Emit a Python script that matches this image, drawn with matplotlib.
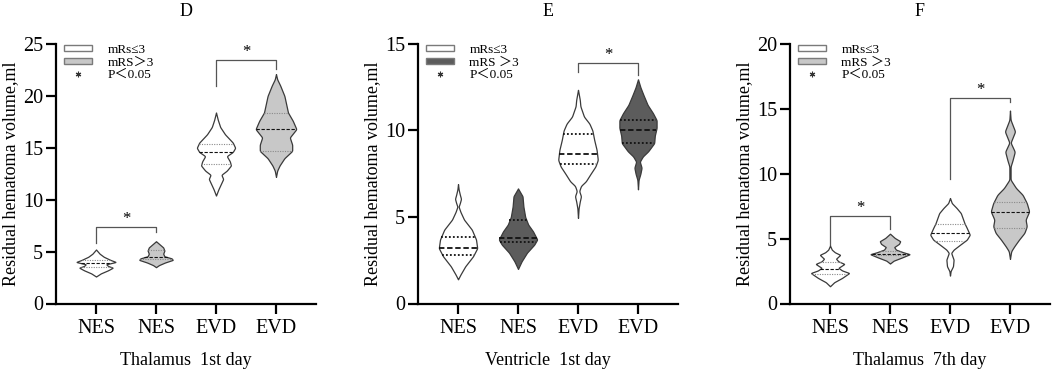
import numpy as np
import matplotlib
matplotlib.use("Agg")
import matplotlib.pyplot as plt
from matplotlib.patches import Patch
from matplotlib.lines import Line2D

plt.rcParams["font.family"] = ["Liberation Serif", "Noto Sans CJK SC"]

GROUPS = ["NES", "NES", "EVD", "EVD"]

# half-width profiles of each violin (value, half width in category units)
# panel D: thalamus, day 1
D_NES_LO_Y = [2.6, 2.9, 3.2, 3.45, 3.62, 3.78, 4.0, 4.2, 4.5, 4.8, 5.2]
D_NES_LO_W = [0, 0.08, 0.20, 0.28, 0.20, 0.17, 0.33, 0.24, 0.13, 0.06, 0]
D_NES_HI_Y = [3.5, 3.7, 3.95, 4.2, 4.35, 4.55, 4.8, 5.1, 5.4, 5.7, 6.0]
D_NES_HI_W = [0, 0.05, 0.15, 0.28, 0.26, 0.14, 0.12, 0.14, 0.12, 0.06, 0]
D_EVD_LO_Y = [10.4, 11.0, 11.5, 12.0, 12.4, 12.8, 13.3, 13.7, 14.2, 14.6, 15.0, 15.5, 16.3, 17.0, 17.7, 18.4]
D_EVD_LO_W = [0, 0.04, 0.08, 0.12, 0.09, 0.18, 0.25, 0.23, 0.18, 0.28, 0.32, 0.28, 0.15, 0.07, 0.03, 0]
D_EVD_HI_Y = [12.2, 12.8, 13.3, 14.0, 14.7, 15.3, 16.0, 16.8, 17.6, 18.4, 19.2, 20.0, 21.0, 21.6, 22.1]
D_EVD_HI_W = [0, 0.02, 0.06, 0.14, 0.27, 0.27, 0.23, 0.34, 0.28, 0.20, 0.17, 0.14, 0.07, 0.02, 0]
D_QUART = [(3.5, 3.9, 4.2), (4.25, 4.45, 5.2), (13.4, 14.6, 15.4), (14.7, 16.8, 18.4)]

# panel E: ventricle, day 1
E_NES_LO_Y = [1.4, 1.67, 2.15, 2.73, 3.2, 3.7, 4.27, 4.85, 5.3, 5.6, 5.8, 6.05, 6.3, 6.6, 6.9]
E_NES_LO_W = [0, 0.04, 0.12, 0.25, 0.32, 0.30, 0.23, 0.10, 0.04, 0.01, 0.03, 0.05, 0.03, 0.01, 0]
E_NES_HI_Y = [2.0, 2.44, 2.94, 3.4, 3.7, 4.17, 4.56, 5.0, 5.6, 6.2, 6.65]
E_NES_HI_W = [0, 0.06, 0.15, 0.27, 0.32, 0.25, 0.17, 0.12, 0.09, 0.075, 0]
E_EVD_LO_Y = [4.95, 5.5, 5.9, 6.2, 6.5, 6.8, 7.06, 7.5, 7.92, 8.3, 8.88, 9.46, 10.0, 10.4, 10.8, 11.4, 11.77, 12.35]
E_EVD_LO_W = [0, 0.01, 0.03, 0.05, 0.02, 0.05, 0.13, 0.21, 0.29, 0.33, 0.31, 0.27, 0.24, 0.19, 0.10, 0.04, 0.03, 0]
E_EVD_HI_Y = [6.6, 7.15, 7.5, 7.85, 8.2, 8.5, 8.8, 9.27, 9.7, 10.15, 10.6, 11.0, 11.48, 12.06, 12.5, 12.96]
E_EVD_HI_W = [0, 0.01, 0.04, 0.06, 0.03, 0.08, 0.17, 0.27, 0.28, 0.31, 0.31, 0.25, 0.16, 0.09, 0.04, 0]
E_QUART = [(2.8, 3.2, 3.85), (3.55, 3.77, 4.8), (8.05, 8.67, 9.8), (9.27, 10.04, 10.62)]

# panel F: thalamus, day 7
F_NES_LO_Y = [1.33, 1.64, 1.97, 2.35, 2.55, 2.75, 3.05, 3.25, 3.45, 3.75, 3.95, 4.15, 4.46]
F_NES_LO_W = [0, 0.07, 0.20, 0.32, 0.20, 0.14, 0.24, 0.14, 0.10, 0.17, 0.08, 0.03, 0]
F_NES_HI_Y = [3.08, 3.3, 3.55, 3.8, 3.95, 4.15, 4.35, 4.6, 4.8, 5.05, 5.38]
F_NES_HI_W = [0, 0.06, 0.20, 0.33, 0.22, 0.10, 0.07, 0.15, 0.17, 0.08, 0]
F_EVD_LO_Y = [2.15, 2.5, 2.87, 3.38, 3.9, 4.15, 4.54, 4.92, 5.3, 5.82, 6.2, 6.59, 6.97, 7.36, 7.74, 8.13]
F_EVD_LO_W = [0, 0.01, 0.05, 0.06, 0.02, 0.06, 0.17, 0.28, 0.33, 0.28, 0.24, 0.21, 0.18, 0.11, 0.03, 0]
F_EVD_HI_Y = [3.44, 4.03, 4.4, 4.92, 5.44, 5.95, 6.46, 7.1, 7.74, 8.38, 8.9, 9.54, 10.56, 11.0, 11.7, 12.4, 13.26, 14.15, 14.87]
F_EVD_HI_W = [0, 0.02, 0.07, 0.15, 0.24, 0.28, 0.26, 0.32, 0.28, 0.21, 0.10, 0.01, 0.01, 0.04, 0.08, 0.01, 0.085, 0.01, 0]
F_QUART = [(2.31, 2.67, 3.18), (3.7, 3.85, 4.05), (4.85, 5.44, 6.13), (5.82, 7.02, 7.8)]

# significance brackets: (left pos, right pos, top, left leg end, right leg end, star y)
D_BRACKETS = [(0, 1, 7.4, 5.8, 6.9, 8.5), (2, 3, 23.5, 21.0, 22.6, 24.6)]
E_BRACKETS = [(2, 3, 13.9, 13.4, 13.2, 14.6)]
F_BRACKETS = [(0, 1, 6.77, 4.54, 5.74, 7.67), (2, 3, 15.82, 9.59, 15.5, 16.8)]

PANELS = [
    dict(title="D", xlabel="Thalamus  1st day", ymax=25, left=56,
         profiles=[(D_NES_LO_Y, D_NES_LO_W), (D_NES_HI_Y, D_NES_HI_W),
                   (D_EVD_LO_Y, D_EVD_LO_W), (D_EVD_HI_Y, D_EVD_HI_W)],
         quart=D_QUART, brackets=D_BRACKETS, fill="#c8c8c8", qcolor="#8a8a8a",
         labels=["mRs≤3", "mRS＞3", "P＜0.05"]),
    dict(title="E", xlabel="Ventricle  1st day", ymax=15, left=418,
         profiles=[(E_NES_LO_Y, E_NES_LO_W), (E_NES_HI_Y, E_NES_HI_W),
                   (E_EVD_LO_Y, E_EVD_LO_W), (E_EVD_HI_Y, E_EVD_HI_W)],
         quart=E_QUART, brackets=E_BRACKETS, fill="#5c5c5c", qcolor="#111111",
         labels=["mRs≤3", "mRS ＞3", "P＜0.05"]),
    dict(title="F", xlabel="Thalamus  7th day", ymax=20, left=790,
         profiles=[(F_NES_LO_Y, F_NES_LO_W), (F_NES_HI_Y, F_NES_HI_W),
                   (F_EVD_LO_Y, F_EVD_LO_W), (F_EVD_HI_Y, F_EVD_HI_W)],
         quart=F_QUART, brackets=F_BRACKETS, fill="#c8c8c8", qcolor="#8a8a8a",
         labels=["mRs≤3", "mRS ＞3", "P＜0.05"]),
]

W, H = 1053, 370
EDGE = "#3a3a3a"


def smooth_profile(y, w, n=400):
    yy = np.linspace(y[0], y[-1], n)
    ww = np.interp(yy, y, w)
    k = np.exp(-0.5 * (np.arange(-7, 8) / 2.5) ** 2)
    k /= k.sum()
    ww = np.convolve(np.pad(ww, 7, mode="constant"), k, mode="same")[7:-7]
    ww[0] = ww[-1] = 0
    return yy, ww


def draw_violin(ax, pos, y, w, quart, face, qcolor, lw_q):
    yy, ww = smooth_profile(y, w)
    ax.fill_betweenx(yy, pos - ww, pos + ww, facecolor=face, edgecolor=EDGE, linewidth=0.9, zorder=2)
    q1, med, q3 = quart
    for q in (q1, q3):
        half = np.interp(q, yy, ww)
        ax.plot([pos - half, pos + half], [q, q], color=qcolor, linestyle=(0, (1, 1.2)),
                linewidth=lw_q, zorder=3)
    half = np.interp(med, yy, ww)
    ax.plot([pos - half, pos + half], [med, med], color="#111111", linestyle=(0, (3, 1.5)),
            linewidth=lw_q, zorder=3)


fig = plt.figure(figsize=(W / 100, H / 100), dpi=100)

for p in PANELS:
    ax = fig.add_axes([p["left"] / W, 1 - 303.5 / H, 260 / W, 259.5 / H])
    faces = ["white", p["fill"], "white", p["fill"]]
    lw_q = 1.3 if p["title"] == "E" else 0.8
    for i, (y, w) in enumerate(p["profiles"]):
        draw_violin(ax, i, y, w, p["quart"][i], faces[i], p["qcolor"], lw_q)

    for x0, x1, top, l0, l1, sy in p["brackets"]:
        ax.plot([x0, x0, x1, x1], [l0, top, top, l1], color="#555555", linewidth=0.9, zorder=1)
        ax.annotate("*", ((x0 + x1) / 2, sy), xytext=(0, -3), textcoords="offset points",
                    ha="center", va="center", fontsize=12, annotation_clip=False)

    ax.set_xlim(-0.667, 3.667)
    ax.set_ylim(0, p["ymax"])
    ax.set_yticks(np.arange(0, p["ymax"] + 1, 5))
    ax.set_xticks(range(4))
    ax.set_xticklabels(GROUPS)
    for s in ["top", "right"]:
        ax.spines[s].set_visible(False)
    for s in ["left", "bottom"]:
        ax.spines[s].set_linewidth(1.6)
    ax.tick_params(length=7.2, width=1.6, labelsize=14.5)
    ax.tick_params(axis="x", pad=4)
    ax.tick_params(axis="y", pad=2)
    ax.set_ylabel("Residual hematoma volume,ml", fontsize=13, labelpad=3)
    ax.set_xlabel(p["xlabel"], fontsize=13, labelpad=10)
    ax.set_title(p["title"], fontsize=13, pad=20)

    handles = [
        Patch(facecolor="white", edgecolor="#7a7a7a", linewidth=1.0),
        Patch(facecolor=p["fill"], edgecolor="#7a7a7a", linewidth=1.0),
        Line2D([], [], linestyle="none", marker=(6, 2, 0), markersize=4,
               color="#333333", markeredgewidth=0.8),
    ]
    ax.legend(handles, p["labels"], loc="upper left", bbox_to_anchor=(0.03, 1.0),
              frameon=False, fontsize=9.5, handlelength=2.1, handleheight=0.35,
              handletextpad=1.2, labelspacing=0.05, borderpad=0, borderaxespad=0)

fig.savefig("out.png", dpi=100)
